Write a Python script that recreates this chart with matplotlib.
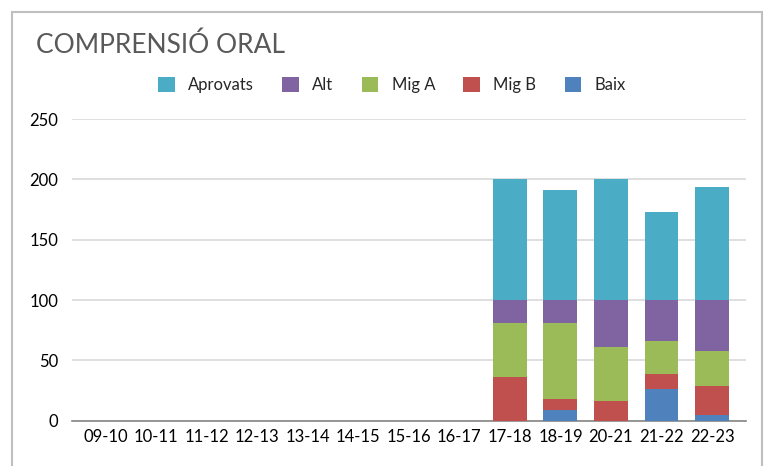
import matplotlib

matplotlib.use("Agg")

import matplotlib.pyplot as plt
import numpy as np
from matplotlib.patches import Rectangle

# school years on the x axis
years = ["09-10", "10-11", "11-12", "12-13", "13-14", "14-15", "15-16",
         "16-17", "17-18", "18-19", "20-21", "21-22", "22-23"]

# stacked from the bottom up
baix = [0, 0, 0, 0, 0, 0, 0, 0, 0, 9, 0, 26, 5]
mig_b = [0, 0, 0, 0, 0, 0, 0, 0, 36, 9, 16, 13, 24]
mig_a = [0, 0, 0, 0, 0, 0, 0, 0, 45, 63, 45, 27, 29]
alt = [0, 0, 0, 0, 0, 0, 0, 0, 19, 19, 39, 34, 42]
aprovats = [0, 0, 0, 0, 0, 0, 0, 0, 100, 91, 100, 73, 94]

series = [
    ("Baix", baix, "#4F81BD"),
    ("Mig B", mig_b, "#C0504D"),
    ("Mig A", mig_a, "#9BBB59"),
    ("Alt", alt, "#8064A2"),
    ("Aprovats", aprovats, "#4BACC6"),
]

plt.rcParams["font.family"] = ["Lato", "DejaVu Sans"]

fig = plt.figure(figsize=(7.68, 4.66), dpi=100)
ax = fig.add_axes([72 / 768, 1 - 420.7 / 466, 674 / 768, 301.7 / 466])

x = np.arange(len(years))
bottom = np.zeros(len(years))
handles = {}
for name, values, color in series:
    vals = np.array(values, dtype=float)
    handles[name] = ax.bar(x, vals, width=0.67, bottom=bottom, color=color,
                           label=name, zorder=3)
    bottom += vals

ax.set_xlim(-0.66, len(years) - 1 + 0.67)
ax.set_ylim(0, 250)
ax.set_yticks(np.arange(0, 251, 50))
ax.set_xticks(x)
ax.set_xticklabels(years)
ax.grid(axis="y", color="#D9D9D9", linewidth=1.2, zorder=0)
for side in ["top", "right", "left"]:
    ax.spines[side].set_visible(False)
ax.spines["bottom"].set_color("#868686")
ax.spines["bottom"].set_linewidth(1.2)
ax.tick_params(axis="both", length=0, labelsize=12, colors="#000000")
ax.tick_params(axis="y", pad=10)
ax.tick_params(axis="x", pad=6)

order = ["Aprovats", "Alt", "Mig A", "Mig B", "Baix"]
leg = fig.legend([handles[n] for n in order], order, loc="center",
                 bbox_to_anchor=(392 / 768, 1 - 85 / 466), ncol=5,
                 frameon=False, fontsize=12, handlelength=1.0,
                 handleheight=1.0, columnspacing=1.7, handletextpad=0.8)
for t in leg.get_texts():
    t.set_color("#262626")

fig.text(36 / 768, 1 - 45 / 466, "COMPRENSIÓ ORAL", fontsize=19,
         color="#595959", va="center", ha="left")

# outer chart frame
fig.patches.append(Rectangle((12 / 768, -0.05), 750 / 768, 1 - 12 / 466 + 0.05,
                             transform=fig.transFigure, fill=False,
                             edgecolor="#BFBFBF", linewidth=1.5))

fig.savefig("out.png", dpi=100)
plt.close(fig)
